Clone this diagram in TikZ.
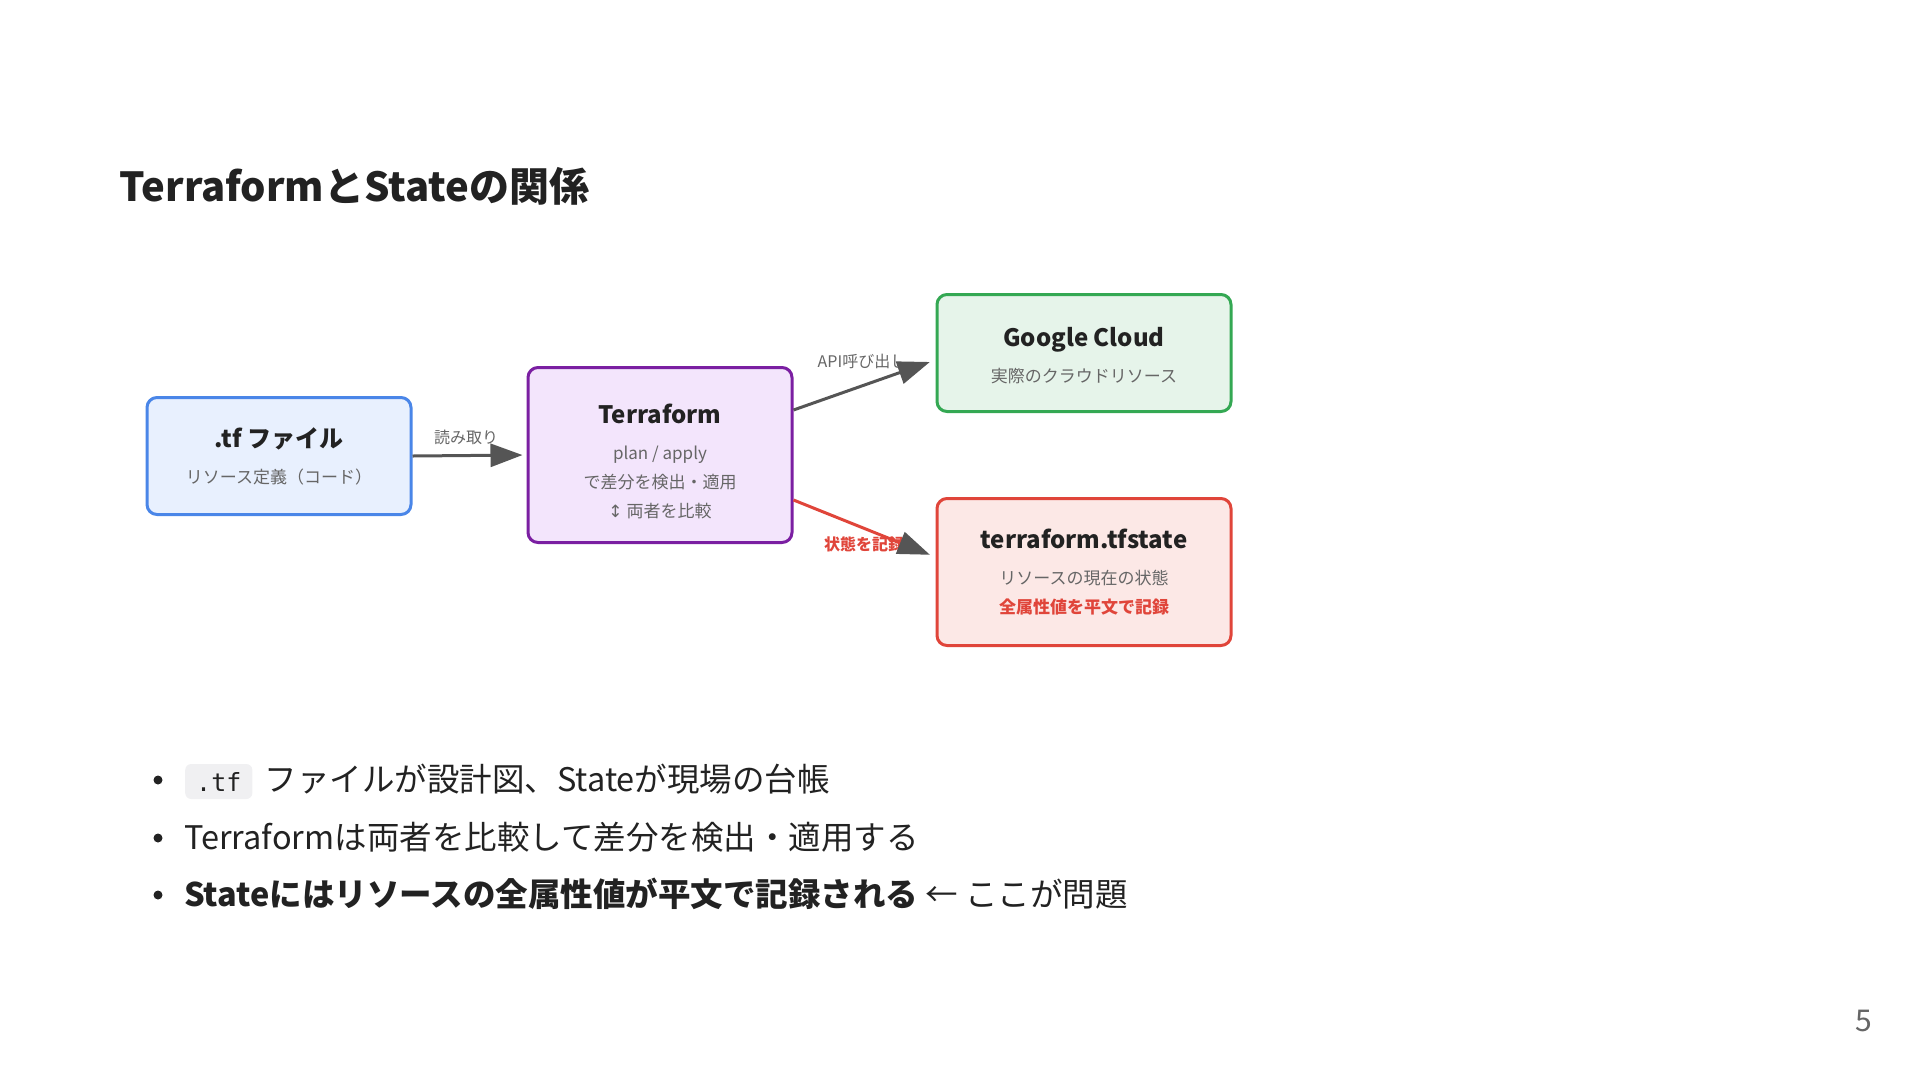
\documentclass[tikz,border=0pt]{standalone}
\usepackage{fontspec}
\setmainfont{Noto Sans CJK JP}
\setmonofont{DejaVu Sans Mono}
\newfontfamily\symfont{DejaVu Sans}
\usetikzlibrary{arrows.meta,positioning}

\definecolor{ink}{HTML}{222222}
\definecolor{subgray}{HTML}{666666}
\definecolor{arrowgray}{HTML}{555555}
\definecolor{tfblue}{HTML}{4A86E8}
\definecolor{tfbluebg}{HTML}{E8F0FE}
\definecolor{tfpurple}{HTML}{7B1FA2}
\definecolor{tfpurplebg}{HTML}{F3E5FC}
\definecolor{gcgreen}{HTML}{34A853}
\definecolor{gcgreenbg}{HTML}{E6F4EA}
\definecolor{stred}{HTML}{E0453A}
\definecolor{stredbg}{HTML}{FCE8E6}
\definecolor{chipbg}{HTML}{F0F0F2}

\newcommand{\boxhead}[1]{{\fontsize{24}{29}\selectfont\bfseries\color{ink}#1}\\[7pt]}

\begin{document}
\begin{tikzpicture}[
    x = 1pt, y = -1pt,
    box/.style={
      draw, line width = 3pt,
      rounded corners = 10pt,
      align = center,
      text = subgray,
      font = \fontsize{17}{29}\selectfont,
    },
    flow/.style={
      draw = arrowgray, line width = 3pt,
      -{Triangle[length=32pt, width=23pt, color=arrowgray]},
    },
    elabel/.style={
      text = subgray,
      font = \fontsize{16}{18}\selectfont,
      inner sep = 0pt,
    },
    item/.style={
      anchor = base west, inner sep = 0pt,
      text = ink,
      font = \fontsize{32.5}{38}\selectfont,
    },
    dot/.style={
      circle, fill = ink, inner sep = 0pt, minimum size = 9pt,
    },
  ]
  \useasboundingbox (0,0) rectangle (1920,1080);

  % title
  \node[anchor=west, text=ink, font=\fontsize{40}{48}\selectfont\bfseries]
    (title) at (116,186) {TerraformとStateの関係};

  % boxes
  \node[box, draw=tfblue, fill=tfbluebg, minimum width=264pt, minimum height=117pt]
    (tffile) at (279,456) {\boxhead{.tf ファイル}リソース定義（コード）};
  \node[box, draw=tfpurple, fill=tfpurplebg, minimum width=264pt, minimum height=175pt]
    (tfm) at (660,455) {\boxhead{\rule{0pt}{32pt}Terraform}plan / apply\\で差分を検出・適用\\{\symfont ↕} 両者を比較};
  \node[box, draw=gcgreen, fill=gcgreenbg, minimum width=294pt, minimum height=117pt]
    (gcp) at (1084,353) {\boxhead{\rule{0pt}{24pt}Google Cloud}実際のクラウドリソース};
  \node[box, draw=stred, fill=stredbg, minimum width=294pt, minimum height=147pt]
    (state) at (1084,572) {\boxhead{terraform.tfstate}リソースの現在の状態\\
      {\bfseries\color{stred}全属性値を平文で記録}};

  % edge labels (under the arrows)
  \node[elabel] (lread) at (466,437) {読み取り};
  \node[elabel] (lapi) at (862,361) {API呼び出し};
  \node[elabel, text=stred, font=\fontsize{16}{18}\selectfont\bfseries]
    (lrec) at (864,544) {状態を記録};

  % connectors
  \draw[flow, shorten >=4pt] (tffile.east) -- (tfm.west);
  \draw[flow, shorten >=6pt] ([yshift=45pt]tfm.east) -- ([yshift=-7pt]gcp.west);
  \draw[flow, draw=stred, shorten >=6pt] ([yshift=-45pt]tfm.east) -- ([yshift=15pt]state.west);

  % bullets
  \node[dot] (dot1) at (158,780) {};
  \node[anchor=base west, fill=chipbg, rounded corners=6pt, inner xsep=11pt, inner ysep=8pt,
    text=ink, font=\ttfamily\fontsize{25}{30}\selectfont]
    (chip) at (185,791) {.tf};
  \node[item] (line1) at ([xshift=12pt]chip.base east) {ファイルが設計図、Stateが現場の台帳};
  \node[dot] (dot2) at (158,838) {};
  \node[item] (line2) at (184,849) {Terraformは両者を比較して差分を検出・適用する};
  \node[dot] (dot3) at (158,895) {};
  \node[item] (line3) at (184,906) {\textbf{Stateにはリソースの全属性値が平文で記録される} ← ここが問題};

  % page number
  \node[text=subgray, font=\fontsize{30}{36}\selectfont] (pageno) at (1864,1021) {5};
\end{tikzpicture}
\end{document}
